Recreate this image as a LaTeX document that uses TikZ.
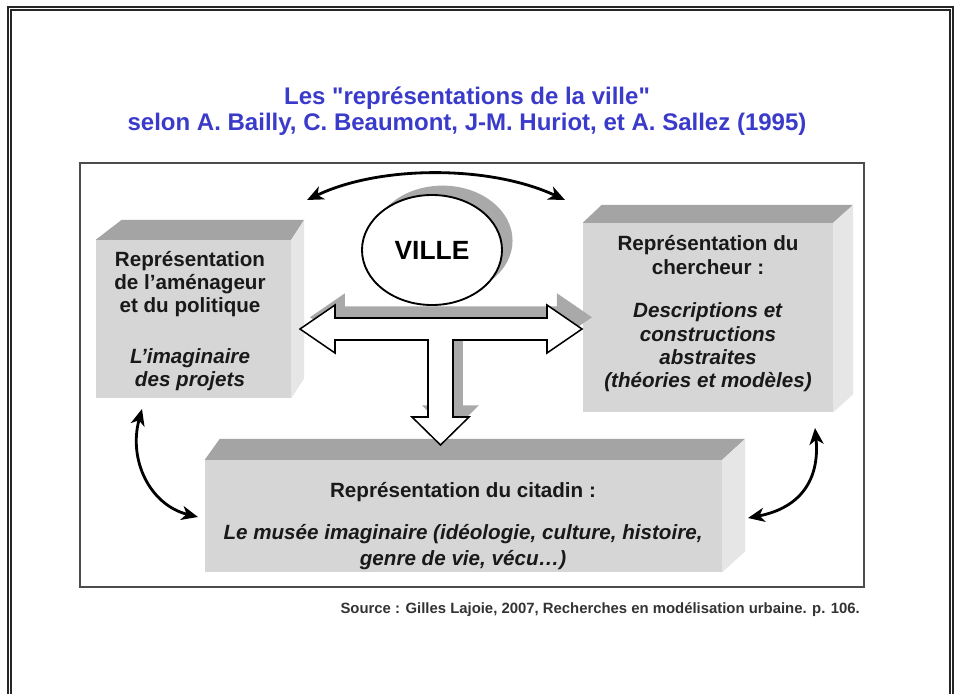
\documentclass[tikz,border=0pt]{standalone}
\usepackage{fontspec}
\setmainfont{Liberation Sans}[Ligatures=TeXOff]
\usepackage{tikz}
\usetikzlibrary{arrows.meta,shapes.geometric,shadows,fit}

\definecolor{titleblue}{HTML}{3B3BCB}
\definecolor{frontgray}{HTML}{D6D6D6}
\definecolor{topgray}{HTML}{A4A4A4}
\definecolor{sidegray}{HTML}{E6E6E6}
\definecolor{shadowgray}{HTML}{A9A9A9}

\tikzset{
  front/.style={fill=frontgray, inner sep=0pt},
  boxtext/.style={align=center, font=\fontsize{17.6}{20}\selectfont\bfseries, text=black!90},
  link/.style={line width=2.4pt, {Stealth[length=14pt,width=12pt,inset=4pt]}-{Stealth[length=14pt,width=12pt,inset=4pt]}},
}

% top and side faces of a box
\newcommand{\boxfaces}[4]{%
  \fill[topgray] (#1.north west) -- ([shift={(#2,#4)}]#1.north west) -- ([shift={(#3,#4)}]#1.north east) -- (#1.north east) -- cycle;
  \fill[sidegray] (#1.north east) -- ([shift={(#3,#4)}]#1.north east) -- ([shift={(#3,#4)}]#1.south east) -- (#1.south east) -- cycle;
}

\begin{document}
\begin{tikzpicture}[x=0.03cm, y=-0.03cm]
  \useasboundingbox (0,0) rectangle (957,693);
  \fill[white] (0,0) rectangle (957,693);
  \draw[line width=0.9pt, black!85] (8,7) rectangle (953,720);
  \draw[line width=0.9pt, black!85] (11,10) rectangle (950,720);

  \node[font=\fontsize{20.5}{22.5}\selectfont\bfseries, text=titleblue, align=center] (title) at (467,111)
    {Les "représentations de la ville"\\selon A. Bailly, C. Beaumont, J-M. Huriot, et A. Sallez (1995)};

  \draw[line width=1.6pt, black!70] (80,163) rectangle (864,587);

  % the three boxes
  \node[front, fit={(96,240)(291,398)}] (amenageur) {};
  \node[front, fit={(583,223)(833,412)}] (chercheur) {};
  \node[front, fit={(205,460)(722,572)}] (citadin) {};
  \boxfaces{amenageur}{26}{13}{-20}
  \boxfaces{chercheur}{19}{20}{-18}
  \boxfaces{citadin}{15}{23}{-21}

  \node[boxtext] (amenageur-t) at (190,321)
    {Représentation\\de l’aménageur\\et du politique\\[23pt]\textit{L’imaginaire}\\\textit{des projets}};
  \node[boxtext] (chercheur-t) at (708,314)
    {Représentation du\\chercheur :\\[17pt]\textit{Descriptions et}\\\textit{constructions}\\\textit{abstraites}\\\textit{(théories et modèles)}};
  \node[boxtext] (citadin-t) at (463,526)
    {Représentation du citadin :\\[16pt]\textit{Le musée imaginaire (idéologie, culture, histoire,}\\[2pt]\textit{genre de vie, vécu…)}};

  % T arrow
  \draw[line width=1.3pt, fill=white, drop shadow={opacity=1, fill=shadowgray, shadow xshift=8.5pt, shadow yshift=10pt}]
    (300,329) -- (335,305) -- (335,318) -- (547,318) -- (547,305) -- (582,329) -- (547,353) -- (547,340)
    -- (453,340) -- (453,417) -- (469,417) -- (440.5,445) -- (412,417) -- (428,417) -- (428,340)
    -- (335,340) -- (335,353) -- cycle;

  \node[ellipse, draw, line width=1.6pt, fill=white, minimum width=4.2cm, minimum height=3.3cm,
        font=\fontsize{22.5}{24}\selectfont\bfseries,
        drop shadow={opacity=1, fill=shadowgray, shadow xshift=9pt, shadow yshift=8pt}] (ville) at (432,250) {VILLE};

  % curved links
  \coordinate (tl) at (307,200);
  \coordinate (tr) at (565,200);
  \coordinate (la) at (142,409);
  \coordinate (lb) at (198,517);
  \coordinate (ra) at (815,428);
  \coordinate (rb) at (748,518);
  \draw[link] (tl) .. controls (380,165) and (490,165) .. (tr);
  \draw[link] (la) .. controls (128,460) and (150,505) .. (lb);
  \draw[link] (ra) .. controls (820,480) and (800,508) .. (rb);

  \node[anchor=east, font=\fontsize{12.7}{14}\selectfont\bfseries, text=black!80] (source) at (864,610)
    {Source : Gilles Lajoie, 2007, Recherches en modélisation urbaine. p. 106.};
\end{tikzpicture}
\end{document}
